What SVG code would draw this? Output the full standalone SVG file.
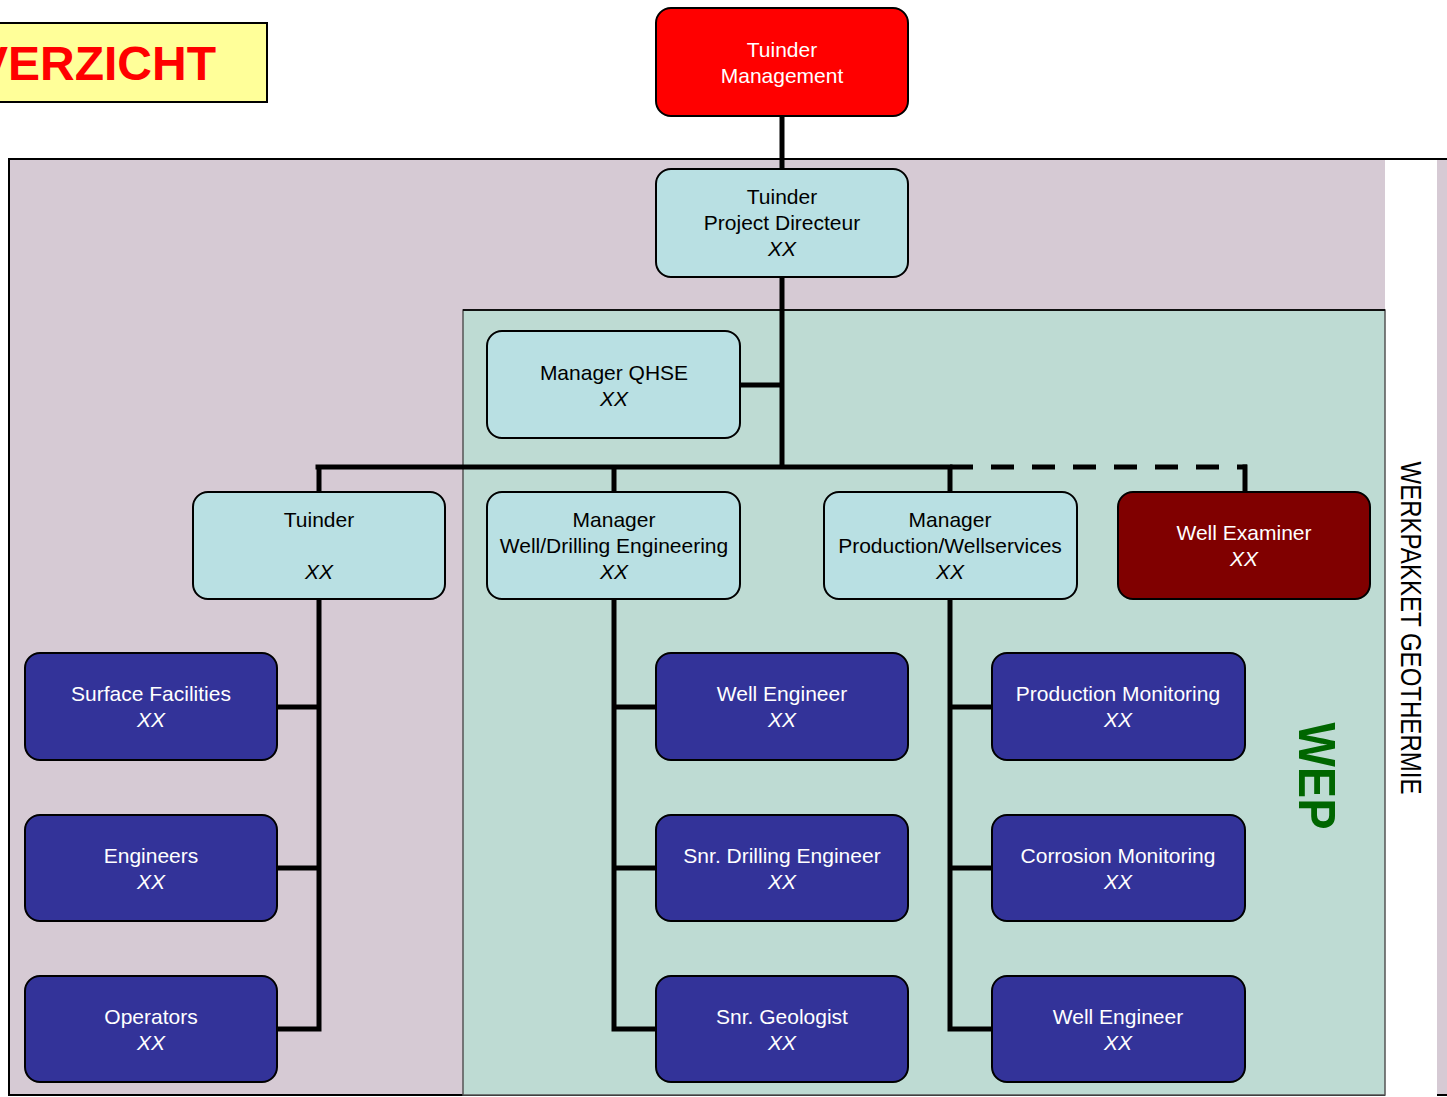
<svg xmlns="http://www.w3.org/2000/svg" width="1447" height="1097" viewBox="0 0 1447 1097">
<defs>
<style>
text{font-family:"Liberation Sans",Arial,sans-serif;font-size:21px;text-anchor:middle}
.n rect{stroke:#000;stroke-width:2}
.lt rect{fill:#b9e0e3}
.lt text{fill:#000}
.bl rect{fill:#333399}
.bl text{fill:#fff}
.it{font-style:italic}
.ln{stroke:#000;stroke-width:5;fill:none;stroke-linecap:square}
.dash{stroke-linecap:butt}
</style>
</defs>
<rect id="bg" x="0" y="0" width="1447" height="1097" fill="#fff"/>
<g id="title">
<rect x="-4" y="23" width="271" height="79" fill="#ffff99" stroke="#000" stroke-width="2"/>
<text x="216" y="80" style="font-size:48px;font-weight:bold;text-anchor:end" fill="#ff0000">VERZICHT</text>
</g>
<g id="panels">
<rect x="9" y="159" width="1450" height="936" fill="#d6cad4" stroke="#000" stroke-width="2"/>
<rect x="1385" y="160" width="52" height="937" fill="#fff"/>
<rect x="463" y="310" width="922" height="785" fill="#bedbd3" stroke="#555" stroke-width="1.5"/>
<line x1="463" y1="310" x2="1385" y2="310" stroke="#111" stroke-width="2"/>
<text transform="translate(1299,776) rotate(90)" style="font-size:52px;font-weight:bold" fill="#006600" textLength="107" lengthAdjust="spacingAndGlyphs">WEP</text>
<text transform="translate(1401,628) rotate(90)" style="font-size:29px" fill="#000" textLength="333" lengthAdjust="spacingAndGlyphs">WERKPAKKET GEOTHERMIE</text>
</g>
<g id="connectors">
<path class="ln" d="M782,116V169M782,277V467M740,385H782M318,467H950M319,467V492M614,467V492M950,467V492M1245,467V492"/>
<path class="ln dash" d="M950,467H1247" stroke-dasharray="23 18"/>
<path class="ln" d="M319,599V1029M277,707H319M277,868H319M277,1029H319"/>
<path class="ln" d="M614,599V1029M614,707H656M614,868H656M614,1029H656"/>
<path class="ln" d="M950,599V1029M950,707H992M950,868H992M950,1029H992"/>
</g>
<g id="mgmt" class="n"><rect x="656" y="8" width="252" height="108" rx="15" fill="#ff0000"/><text x="782" y="57" fill="#fff">Tuinder</text><text x="782" y="83" fill="#fff">Management</text></g>
<g id="pd" class="n lt"><rect x="656" y="169" width="252" height="108" rx="15"/><text x="782" y="204">Tuinder</text><text x="782" y="230">Project Directeur</text><text x="782" y="256" class="it">XX</text></g>
<g id="qhse" class="n lt"><rect x="487" y="331" width="253" height="107" rx="15"/><text x="614" y="380">Manager QHSE</text><text x="614" y="406" class="it">XX</text></g>
<g id="tuinder" class="n lt"><rect x="193" y="492" width="252" height="107" rx="15"/><text x="319" y="527">Tuinder</text><text x="319" y="579" class="it">XX</text></g>
<g id="wde" class="n lt"><rect x="487" y="492" width="253" height="107" rx="15"/><text x="614" y="527">Manager</text><text x="614" y="553">Well/Drilling Engineering</text><text x="614" y="579" class="it">XX</text></g>
<g id="pws" class="n lt"><rect x="824" y="492" width="253" height="107" rx="15"/><text x="950" y="527">Manager</text><text x="950" y="553">Production/Wellservices</text><text x="950" y="579" class="it">XX</text></g>
<g id="we" class="n"><rect x="1118" y="492" width="252" height="107" rx="15" fill="#800000"/><text x="1244" y="540" fill="#fff">Well Examiner</text><text x="1244" y="566" fill="#fff" class="it">XX</text></g>
<g id="sf" class="n bl"><rect x="25" y="653" width="252" height="107" rx="15"/><text x="151" y="701">Surface Facilities</text><text x="151" y="727" class="it">XX</text></g>
<g id="eng" class="n bl"><rect x="25" y="815" width="252" height="106" rx="15"/><text x="151" y="863">Engineers</text><text x="151" y="889" class="it">XX</text></g>
<g id="ops" class="n bl"><rect x="25" y="976" width="252" height="106" rx="15"/><text x="151" y="1024">Operators</text><text x="151" y="1050" class="it">XX</text></g>
<g id="we1" class="n bl"><rect x="656" y="653" width="252" height="107" rx="15"/><text x="782" y="701">Well Engineer</text><text x="782" y="727" class="it">XX</text></g>
<g id="sde" class="n bl"><rect x="656" y="815" width="252" height="106" rx="15"/><text x="782" y="863">Snr. Drilling Engineer</text><text x="782" y="889" class="it">XX</text></g>
<g id="sg" class="n bl"><rect x="656" y="976" width="252" height="106" rx="15"/><text x="782" y="1024">Snr. Geologist</text><text x="782" y="1050" class="it">XX</text></g>
<g id="pm" class="n bl"><rect x="992" y="653" width="253" height="107" rx="15"/><text x="1118" y="701">Production Monitoring</text><text x="1118" y="727" class="it">XX</text></g>
<g id="cm" class="n bl"><rect x="992" y="815" width="253" height="106" rx="15"/><text x="1118" y="863">Corrosion Monitoring</text><text x="1118" y="889" class="it">XX</text></g>
<g id="we2" class="n bl"><rect x="992" y="976" width="253" height="106" rx="15"/><text x="1118" y="1024">Well Engineer</text><text x="1118" y="1050" class="it">XX</text></g>
</svg>
